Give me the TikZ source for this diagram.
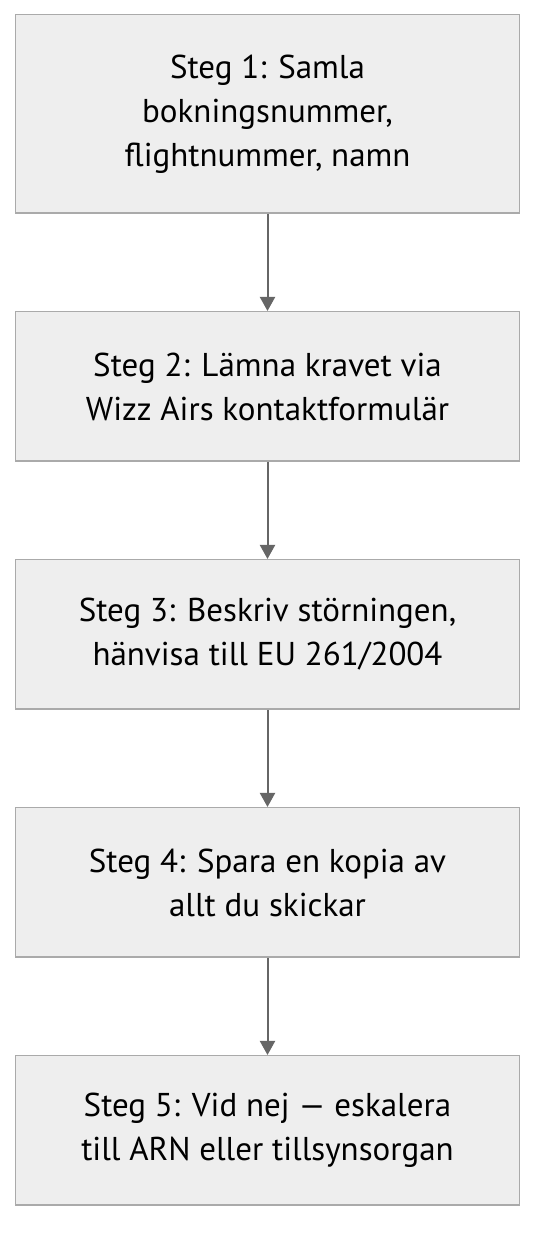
\documentclass[tikz,border=0pt]{standalone}
\usepackage{fontspec}
\setmainfont{PT Sans}
\usepackage{xcolor}
\usepackage{tikz}
\usetikzlibrary{arrows.meta, positioning}

\definecolor{boxfill}{HTML}{EEEEEE}
\definecolor{boxline}{HTML}{AAAAAA}
\definecolor{arrowgray}{HTML}{666666}

\begin{document}
\begin{tikzpicture}[
			x=1pt, y=1pt,
			node distance=97pt,
			every node/.style={draw=boxline, line width=1.5pt, fill=boxfill, rectangle, align=center, minimum width=504pt, minimum height=149.5pt, font=\fontsize{33}{44}\selectfont},
			tallbox/.style={minimum height=198.5pt},
			arrow/.style={-{Triangle[width=15pt, length=14pt]}, line width=2pt, draw=arrowgray, fill=arrowgray}
			]
			\useasboundingbox (0,0) rectangle (552,1260);
			
			% Nodes
			\node (collect) [tallbox] at (267.5,1146) {Steg 1: Samla\\bokningsnummer,\\flightnummer, namn};
			\node (submit) [below=of collect] {Steg 2: Lämna kravet via\\Wizz Airs kontaktformulär};
			\node (describe) [below=of submit] {Steg 3: Beskriv störningen,\\hänvisa till EU 261/2004};
			\node (save_copy) [below=of describe] {Steg 4: Spara en kopia av\\allt du skickar};
			\node (escalate) [below=of save_copy] {Steg 5: Vid nej — eskalera\\till ARN eller tillsynsorgan};
			
			% Connections
			\draw [arrow] (collect) -- (submit);
			\draw [arrow] (submit) -- (describe);
			\draw [arrow] (describe) -- (save_copy);
			\draw [arrow] (save_copy) -- (escalate);
			
		\end{tikzpicture}
\end{document}
